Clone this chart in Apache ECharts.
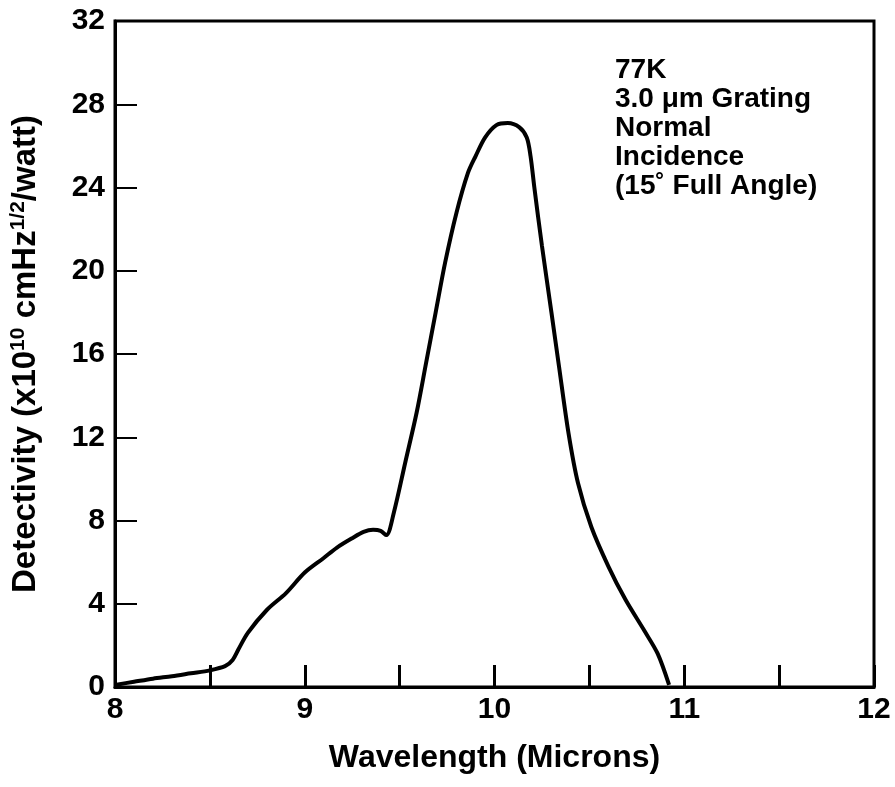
<!DOCTYPE html>
<html>
<head>
<meta charset="utf-8">
<script src="https://cdn.jsdelivr.net/npm/echarts@6/dist/echarts.min.js"></script>
<style>
html,body{margin:0;padding:0;background:#fff;}
#chart{width:895px;height:787px;}
</style>
</head>
<body>
<div id="chart"></div>
<script>
// Wavelength (microns)
const wavelength = [8.00, 8.10, 8.20, 8.30, 8.40, 8.50, 8.58, 8.62, 8.65, 8.70, 8.80, 8.90, 9.00, 9.10, 9.17, 9.25, 9.31, 9.36, 9.40, 9.43, 9.47, 9.53, 9.59, 9.64, 9.69, 9.74, 9.80, 9.86, 9.90, 9.95, 10.01, 10.07, 10.13, 10.17, 10.19, 10.21, 10.25, 10.30, 10.34, 10.39, 10.44, 10.51, 10.60, 10.69, 10.79, 10.86, 10.92];
// Detectivity (x10^10 cmHz^1/2/watt)
const detectivity = [0.10, 0.25, 0.40, 0.52, 0.66, 0.80, 1.00, 1.30, 1.80, 2.60, 3.70, 4.50, 5.50, 6.20, 6.70, 7.15, 7.45, 7.55, 7.50, 7.30, 8.40, 10.8, 13.2, 15.6, 18.0, 20.4, 22.8, 24.7, 25.5, 26.4, 27.0, 27.1, 26.9, 26.4, 25.5, 24.0, 21.2, 18.0, 15.4, 12.2, 9.8, 7.7, 5.8, 4.2, 2.7, 1.6, 0.1];
const xTickLabels = ['8', '9', '10', '11', '12'];
const yTickLabels = ['0', '4', '8', '12', '16', '20', '24', '28', '32'];
const annotationLines = ['77K', '3.0 \u03bcm Grating', 'Normal', 'Incidence', '(15\u02da Full Angle)'];

const FONT = '"Liberation Sans", Arial, Helvetica, sans-serif';
const chart = echarts.init(document.getElementById('chart'), null, {renderer: 'canvas'});
const points = wavelength.map((x, i) => [x, detectivity[i]]);

chart.setOption({
  animation: false,
  backgroundColor: '#fff',
  grid: {left: 108, right: 21, top: 21, bottom: 100, show: true, borderColor: '#000', borderWidth: 3, backgroundColor: 'transparent'},
  xAxis: {
    type: 'value', min: 8, max: 12, interval: 0.5,
    name: 'Wavelength (Microns)', nameLocation: 'middle', nameGap: 55,
    nameTextStyle: {fontFamily: FONT, fontWeight: 'bold', fontSize: 32, color: '#000'},
    axisLine: {show: true, onZero: false, lineStyle: {color: '#000', width: 3}},
    axisTick: {show: true, inside: true, length: 22, lineStyle: {color: '#000', width: 3}},
    axisLabel: {
      fontFamily: FONT, fontWeight: 'bold', fontSize: 30, color: '#000', margin: 8,
      formatter: v => { const s = String(v); return xTickLabels.indexOf(s) >= 0 ? s : ''; }
    },
    splitLine: {show: false}
  },
  yAxis: {
    type: 'value', min: 0, max: 32, interval: 4,
    name: 'Detectivity (x10{sup|10} cmHz{sup|1/2}/watt)', nameLocation: 'middle', nameGap: 72,
    nameTextStyle: {
      fontFamily: FONT, fontWeight: 'bold', fontSize: 33, color: '#000',
      rich: {sup: {fontFamily: FONT, fontWeight: 'bold', fontSize: 21, color: '#000', verticalAlign: 'top', padding: [0, 0, 14, 0]}}
    },
    axisLine: {show: true, lineStyle: {color: '#000', width: 3}},
    axisTick: {show: true, inside: true, length: 22, lineStyle: {color: '#000', width: 2}},
    axisLabel: {
      fontFamily: FONT, fontWeight: 'bold', fontSize: 30, color: '#000', margin: 10,
      formatter: v => { const s = String(v); return yTickLabels.indexOf(s) >= 0 ? s : ''; }
    },
    splitLine: {show: false}
  },
  graphic: [{
    type: 'text', left: 615, top: 56,
    style: {
      text: annotationLines.join('\n'),
      font: 'bold 28px ' + FONT, fill: '#000', lineHeight: 29
    }
  }],
  series: [{
    type: 'line', data: points, smooth: 0.3, showSymbol: false,
    lineStyle: {color: '#000', width: 4}, clip: true
  }]
});
</script>
</body>
</html>
